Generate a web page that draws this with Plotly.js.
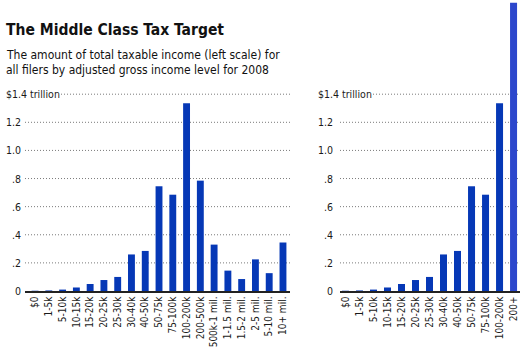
<!DOCTYPE html>
<html><head><meta charset="utf-8">
<script src="https://cdn.plot.ly/plotly-3.0.1.min.js"></script>
<style>html,body{margin:0;padding:0;background:#fff}</style></head>
<body><div id="chart" style="width:528px;height:351px"></div>
<script>
const leftCategories = ["$0","1-5k","5-10k","10-15k","15-20k","20-25k","25-30k","30-40k","40-50k","50-75k","75-100k","100-200k","200-500k","500k-1 mil.","1-1.5 mil.","1.5-2 mil.","2-5 mil.","5-10 mil.","10+ mil."];
const leftValues = [0.002,0.004,0.01,0.025,0.05,0.078,0.10,0.26,0.285,0.745,0.685,1.335,0.785,0.33,0.145,0.085,0.225,0.127,0.345];
const rightCategories = ["$0","1-5k","5-10k","10-15k","15-20k","20-25k","25-30k","30-40k","40-50k","50-75k","75-100k","100-200k","200+"];
const rightValues = [0.002,0.004,0.01,0.025,0.05,0.078,0.10,0.26,0.285,0.745,0.685,1.335,2.05];
const yTickValues = [0,0.2,0.4,0.6,0.8,1.0,1.2,1.4];
const yTickLabels = ["0",".2",".4",".6",".8","1.0","1.2","$1.4 trillion"];
const titleText = "The Middle Class Tax Target";
const subtitleLines = ["The amount of total taxable income (left scale) for", "all filers by adjusted gross income level for 2008"];

const W = 528, H = 351;
const FONT = "'DejaVu Sans Condensed', 'DejaVu Sans', sans-serif";
const BAR = "#0638b6", BAR_HI = "#2c47cc", TXT = "#1a1a1a";
const px = v => v / W, py = v => 1 - v / H;

const L = {x0: 25, x1: 290, topGrid: 61, numRight: 23, topLeft: 4};
const R = {x0: 340, x1: 520, topGrid: 373, numRight: 335, topLeft: 316};

const traces = [
  {type: "bar", x: leftCategories, y: leftValues, xaxis: "x", yaxis: "y",
   marker: {color: BAR}, hoverinfo: "skip"},
  {type: "bar", x: rightCategories, y: rightValues, xaxis: "x2", yaxis: "y2",
   marker: {color: rightValues.map((v, i) => i === rightValues.length - 1 ? BAR_HI : BAR)}, hoverinfo: "skip"}
];

const shapes = [], annotations = [];
[[L, "y"], [R, "y2"]].forEach(([p, yr]) => {
  yTickValues.forEach((v, i) => {
    const isTop = i === yTickValues.length - 1;
    if (v !== 0) shapes.push({type: "line", xref: "paper", yref: yr,
      x0: px(isTop ? p.topGrid : p.x0), x1: px(p.x1), y0: v, y1: v,
      line: {color: "#7a7a7a", width: 1, dash: "1px,2px"}, layer: "below"});
    annotations.push({xref: "paper", yref: yr, x: px(isTop ? p.topLeft : p.numRight), y: v,
      xanchor: isTop ? "left" : "right", yanchor: "middle", showarrow: false,
      text: yTickLabels[i], font: {family: FONT, size: 10.5, color: TXT}});
  });
});
annotations.push({xref: "paper", yref: "paper", x: px(4), y: py(29.6), xanchor: "left", yanchor: "middle",
  showarrow: false, text: "<b>" + titleText + "</b>", font: {family: FONT, size: 15.5, color: "#111"}});
[55.1, 69.8].forEach((yy, i) => annotations.push({xref: "paper", yref: "paper", x: px(4), y: py(yy),
  xanchor: "left", yanchor: "middle", showarrow: false, text: subtitleLines[i],
  font: {family: FONT, size: 12, color: "#111"}}));

const yDom = [60 / H, 1];
const yCommon = {range: [0, 2.07], domain: yDom, showgrid: false, zeroline: false, showticklabels: false, fixedrange: true};
const xCommon = {type: "category", tickangle: -90, showgrid: false, zeroline: false, showline: true,
  linecolor: "#222", linewidth: 1.5, ticks: "", tickfont: {family: FONT, size: 10, color: TXT}, fixedrange: true};

const layout = {
  width: W, height: H, margin: {l: 0, r: 0, t: 0, b: 0},
  paper_bgcolor: "#fff", plot_bgcolor: "rgba(0,0,0,0)",
  showlegend: false, bargap: 0.5,
  xaxis: Object.assign({}, xCommon, {domain: [px(L.x0), px(L.x1)], range: [-0.73, 18.51], anchor: "y",
    tickmode: "array", tickvals: leftCategories, ticktext: leftCategories}),
  xaxis2: Object.assign({}, xCommon, {domain: [px(R.x0), px(R.x1)], range: [-0.39, 12.46], anchor: "y2",
    tickmode: "array", tickvals: rightCategories, ticktext: rightCategories}),
  yaxis: Object.assign({}, yCommon, {anchor: "x"}),
  yaxis2: Object.assign({}, yCommon, {anchor: "x2"}),
  shapes: shapes, annotations: annotations
};
Plotly.newPlot("chart", traces, layout, {staticPlot: true, displayModeBar: false});
</script></body></html>
